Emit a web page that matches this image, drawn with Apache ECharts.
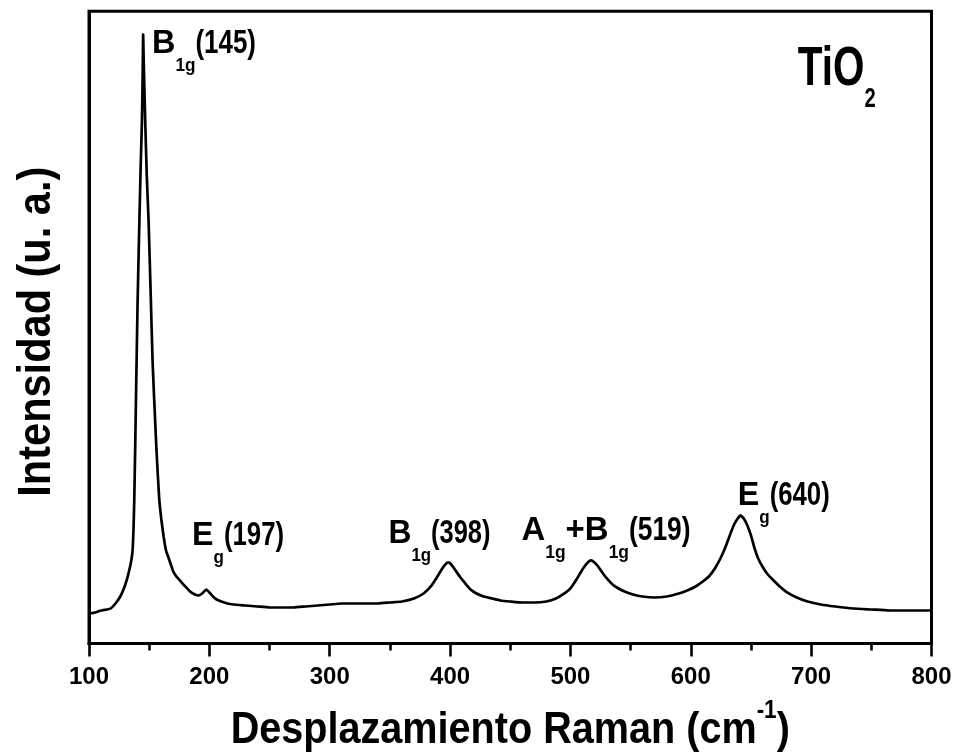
<!DOCTYPE html>
<html>
<head>
<meta charset="utf-8">
<script src="https://cdn.jsdelivr.net/npm/echarts@6/dist/echarts.min.js"></script>
<style>
html,body{margin:0;padding:0;background:#fff;}
#chart{width:956px;height:753px;}
</style>
</head>
<body>
<div id="chart"></div>
<script>
// ---- data ----
const ramanShift = [100,105,110,115,118,122,126,129,131,133,135,136.2,137,137.6,138.3,139,139.7,140.4,142,143,144,144.6,145,145.5,146.7,148,149.5,151.4,152.8,154.2,156,158.3,160,162,164,166,168,170,172,174,177,180,184,188,191,194,197.5,200,203,206,210,215,220,230,240,250,260,270,280,290,300,310,320,330,340,350,360,370,378,384,389,393,396,398.5,401,404,408,412,417,422,428,435,442,450,460,470,480,488,495,500,505,509,513,517,520,523,527,531,535,540,545,552,560,570,580,590,597,604,610,615,620,625,629,633,636,639,641.3,644,647,650,653,656,660,664,668,673,680,688,697,708,720,735,750,765,780,800];
const intensity  = [30,31,33,34,35,40,47,55,62,71,82,93,115,143,190,243,293,343,430,480,523,570,609,580,523,468,423,343,283,243,195,145,125,107,93,86,79,72,68,65,61,57,52,49,48,50,54,51,47,44,42,40,39,38,37,36,36,36,37,38,39,40,40,40,40,41,42,45,50,57,66,74,79,81,79,74,67,61,54,50,47,45,43,42,41,41,42,45,50,55,64,72,79,83,81,77,70,64,59,55,52,49,47,46,47,50,53,57,62,67,75,86,97,110,119,125,128,125,118,108,95,85,76,69,64,58,51,46,42,39,37,35,34,33,33,33];
const xTickValues = [100,200,300,400,500,600,700,800];
const peakTexts = [
  [['B','n'],['1g','sub'],['(145)','num']],
  [['E','n'],['g','sub'],['(197)','num']],
  [['B','n'],['1g','sub'],['(398)','num']],
  [['A','n'],['1g','sub'],['+B','n'],['1g','sub'],['(519)','num']],
  [['E','n'],['g','sub'],['(640)','num']]
];
const sampleText = [['TiO','n'],['2','sub']];
const xTitle = [['Desplazamiento Raman (cm','n'],['-1','sup'],[')','n']];
const yTitle = [['Intensidad (u. a.)','n']];

// ---- layout (positions, not data) ----
const peakAnchors = [[154,590],[187.3,98],[350.5,100],[461,103],[640.7,138]];
const peakWidths = [104,92,102,169,92];
const sampleAnchor = [690.5,558];

const FONT = '"Liberation Sans", Arial, Helvetica, sans-serif';
const chart = echarts.init(document.getElementById('chart'), null, {renderer:'canvas'});

const option = {
  animation:false,
  backgroundColor:'#fff',
  grid:{left:89,right:24.5,top:11.3,bottom:109.5,show:true,borderColor:'#000',borderWidth:3,backgroundColor:'transparent'},
  xAxis:{type:'value',min:xTickValues[0],max:xTickValues[xTickValues.length-1],interval:100,
    axisLine:{show:true,onZero:false,lineStyle:{color:'#000',width:3}},
    axisTick:{show:true,length:13,lineStyle:{color:'#000',width:2.6}},
    minorTick:{show:true,splitNumber:2,length:7,lineStyle:{color:'#000',width:2.6}},
    splitLine:{show:false},
    axisLabel:{margin:22,fontSize:24,fontWeight:'bold',color:'#000',fontFamily:FONT}
  },
  yAxis:{type:'value',min:0,max:632,
    axisLine:{show:true,onZero:false,lineStyle:{color:'#000',width:3}},
    axisTick:{show:false},axisLabel:{show:false},splitLine:{show:false}
  },
  series:[{type:'line',data:ramanShift.map((x,i)=>[x,intensity[i]]),showSymbol:false,
    lineStyle:{color:'#000',width:2.7},smooth:0.15,z:3}]
};
chart.setOption(option);

const ctx = document.createElement('canvas').getContext('2d');
function build(parts, o){
  let cx = 0; const children = [];
  for (const [t,kind] of parts){
    const fs = (kind==='n'||kind==='num')?o.fs:(kind==='sub'?o.subFs:o.supFs);
    const dy = (kind==='n'||kind==='num')?0:(kind==='sub'?o.subDy:o.supDy);
    const sx = (o.kscale && o.kscale[kind]) || 1;
    ctx.font = 'bold '+fs+'px '+FONT;
    ctx.textBaseline = 'middle';
    const m = ctx.measureText(t);
    const off = ctx.measureText('H').actualBoundingBoxDescent;
    children.push({type:'text',x:cx,y:dy-off,scaleX:sx,style:{text:t,fontSize:fs,fontWeight:'bold',fontFamily:FONT,fill:'#000',align:'left',verticalAlign:'middle'}});
    cx += m.width*sx;
  }
  return {children, width:cx};
}
const graphics = [];
peakTexts.forEach((p,i)=>{
  const b = build(p,{fs:34,subFs:18,subDy:18,kscale:{n:1.0,sub:1.0,num:0.8}});
  const pt = chart.convertToPixel({gridIndex:0},peakAnchors[i]);
  graphics.push({type:'group',x:pt[0]-2,y:pt[1],scaleX:peakWidths[i]/b.width,children:b.children});
});
{
  const b = build(sampleText,{fs:56,subFs:28,subDy:22});
  const pt = chart.convertToPixel({gridIndex:0},sampleAnchor);
  graphics.push({type:'group',x:pt[0]-2,y:pt[1],scaleX:78/b.width,children:b.children});
}
{
  const b = build(xTitle,{fs:44,supFs:25,supDy:-25});
  const s = 0.9;
  const cxm = (89 + 956-24.5)/2;
  graphics.push({type:'group',x:cxm - b.width*s/2,y:743,scaleX:s,children:b.children});
}
{
  const b = build(yTitle,{fs:47});
  const s = 330/b.width;
  graphics.push({type:'group',x:50,y:331.7 + b.width*s/2,rotation:Math.PI/2,scaleX:s,children:b.children});
}
chart.setOption({graphic:graphics});
</script>
</body>
</html>
